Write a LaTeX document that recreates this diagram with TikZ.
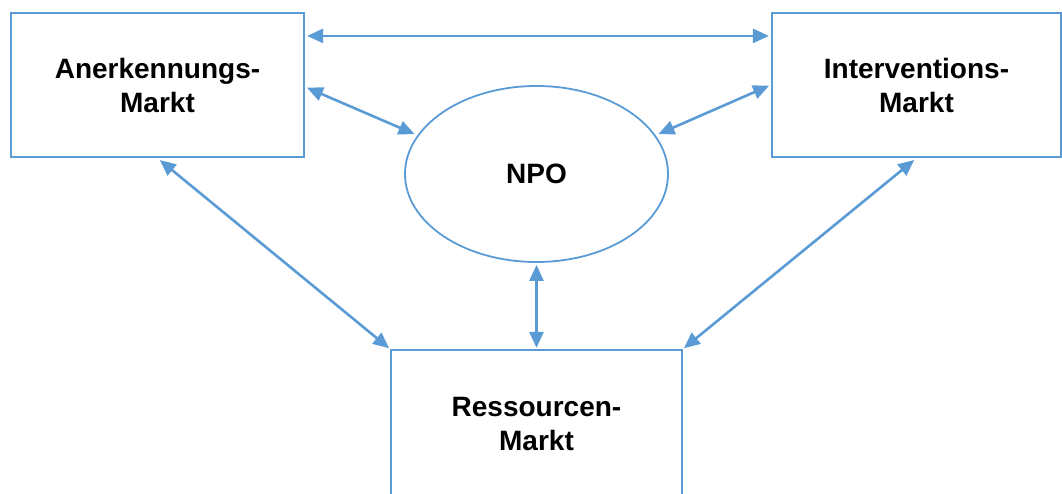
\documentclass[tikz,border=0pt]{standalone}
\usepackage{fontspec}
\setmainfont{Liberation Sans}
\usetikzlibrary{arrows.meta,shapes.geometric}
\definecolor{linkblue}{RGB}{91,155,213}
\begin{document}
\begin{tikzpicture}[x=1pt,y=-1pt,
  market/.style={draw=linkblue, line width=2.2pt, rectangle, inner sep=0pt,
    align=center, text=black, font=\fontsize{28}{34}\selectfont\bfseries},
  org/.style={draw=linkblue, line width=1.8pt, ellipse, inner sep=0pt,
    minimum width=263, minimum height=176, text=black,
    font=\fontsize{28}{34}\selectfont\bfseries},
  link/.style={draw=linkblue, line width=2.6pt,
    {Triangle[length=16pt,width=14pt]}-{Triangle[length=16pt,width=14pt]}}
]
\useasboundingbox (0,0) rectangle (1062,494);
\clip (0,0) rectangle (1062,494);

% market boxes and the organisation in the middle
\node[market, minimum width=293, minimum height=144] (A) at (157.5,85) {Anerkennungs-\\Markt};
\node[market, minimum width=289, minimum height=144] (I) at (916.5,85) {Interventions-\\Markt};
\node[market, minimum width=291, minimum height=149] (R) at (536.5,424.5) {Ressourcen-\\Markt};
\node[org] (N) at (536.5,174) {NPO};

% exchange relations
\draw[link, shorten <=2pt, shorten >=2pt] ([yshift=-24pt]A.north east) -- ([yshift=-24pt]I.north west);
\draw[link, shorten <=2pt, shorten >=3pt] ([yshift=-75pt]A.north east) -- (N.162);
\draw[link, shorten <=2pt, shorten >=3pt] ([yshift=-73pt]I.north west) -- (N.18);
\draw[link, shorten <=3pt, shorten >=1pt] (A.south) -- (R.north west);
\draw[link, shorten <=3pt, shorten >=1pt] (I.south) -- (R.north east);
\draw[link, shorten <=2pt, shorten >=1pt] (N.south) -- (R.north);
\end{tikzpicture}
\end{document}
